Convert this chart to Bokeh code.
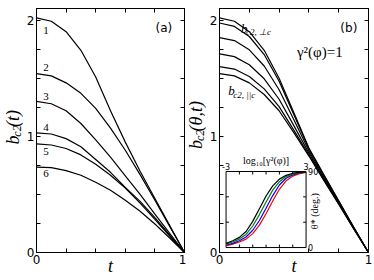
from math import pi
from bokeh.plotting import figure
from bokeh.models import Range1d, LinearAxis, FixedTicker, Label
from bokeh.layouts import row
from bokeh.embed import file_html
from bokeh.resources import INLINE

# ---------------- data ----------------
t = [0.0, 0.1, 0.2, 0.3, 0.4, 0.5, 0.6, 0.7, 0.8, 0.9, 1.0]

# panel (a): curves 1..6
a1 = [2.02, 1.99, 1.90, 1.74, 1.51, 1.22, 0.95, 0.70, 0.465, 0.232, 0.0]
a2 = [1.54, 1.52, 1.46, 1.37, 1.24, 1.07, 0.88, 0.67, 0.45, 0.225, 0.0]
a3 = [1.30, 1.28, 1.22, 1.11, 0.97, 0.82, 0.66, 0.50, 0.33, 0.165, 0.0]
a4 = [1.03, 1.02, 0.98, 0.91, 0.80, 0.69, 0.56, 0.44, 0.30, 0.15, 0.0]
a5 = [0.935, 0.925, 0.895, 0.84, 0.76, 0.665, 0.555, 0.425, 0.285, 0.142, 0.0]
a6 = [0.735, 0.73, 0.705, 0.665, 0.605, 0.535, 0.45, 0.355, 0.245, 0.125, 0.0]
a_names = ["1", "2", "3", "4", "5", "6"]

# panel (b): from perpendicular (top) to parallel (bottom)
b1 = [2.02, 1.99, 1.90, 1.74, 1.50, 1.20, 0.90, 0.67, 0.445, 0.22, 0.0]
b2 = [1.975, 1.946, 1.859, 1.704, 1.474, 1.184, 0.893, 0.665, 0.442, 0.219, 0.0]
b3 = [1.85, 1.824, 1.744, 1.605, 1.401, 1.14, 0.875, 0.652, 0.434, 0.215, 0.0]
b4 = [1.71, 1.686, 1.616, 1.495, 1.319, 1.09, 0.855, 0.638, 0.426, 0.21, 0.0]
b5 = [1.60, 1.579, 1.515, 1.408, 1.255, 1.051, 0.839, 0.626, 0.419, 0.207, 0.0]
b6 = [1.54, 1.52, 1.46, 1.36, 1.22, 1.03, 0.83, 0.62, 0.415, 0.205, 0.0]

x_lim = [0.0, 1.0]
y_lim = [0.0, 2.1]
x_major = [0, 1]
x_minor = [0.2, 0.4, 0.6, 0.8]
y_major = [0, 1, 2]
y_minor = [0.25, 0.5, 0.75, 1.25, 1.5, 1.75]

# inset: theta* (deg.) vs log10[gamma^2(phi)]
ins_x = [-3.0, -2.5, -2.0, -1.5, -1.0, -0.5, 0.0, 0.5, 1.0, 1.5, 2.0, 2.5, 3.0]
ins_black = [5, 8, 12, 19, 31, 46, 61, 73, 81, 85.5, 88, 89, 89.5]
ins_green = [4, 6.5, 10, 15.5, 25.5, 39, 54, 68, 78, 84, 87, 88.7, 89.3]
ins_blue = [3, 5, 8, 12.5, 20.5, 32, 46.5, 61.5, 74, 82, 86, 88.3, 89.2]
ins_red = [2, 4, 6.5, 10, 16.5, 26.5, 40, 55, 69, 79, 84.5, 87.5, 89]
ins_xlim = [-3, 3]
ins_ylim = [0, 90]
ins_xticks = [-2, -1, 0, 1, 2]
ins_yticks = [30, 60]
ins_xlabels = ["-3", "3"]
ins_ylabels = ["0", "90"]

H = 278
SERIF = "Liberation Serif"
SANS = "DejaVu Sans"


def make_panel(width, bl, br):
    p = figure(width=width, height=H, x_range=Range1d(*x_lim), y_range=Range1d(*y_lim),
               output_backend="svg", toolbar_location=None,
               min_border_left=bl, min_border_right=br, min_border_top=8, min_border_bottom=24)
    p.xgrid.visible = False
    p.ygrid.visible = False
    p.outline_line_color = "black"
    p.outline_line_alpha = 1.0
    p.background_fill_color = "white"
    p.border_fill_color = "white"
    xa, ya = p.xaxis[0], p.yaxis[0]
    xa.ticker = FixedTicker(ticks=x_major, minor_ticks=x_minor)
    ya.ticker = FixedTicker(ticks=y_major, minor_ticks=y_minor)
    for ax in (xa, ya):
        ax.major_tick_in = 4
        ax.major_tick_out = 0
        ax.minor_tick_in = 4
        ax.minor_tick_out = 0
        ax.axis_line_color = "black"
        ax.major_tick_line_color = "black"
        ax.minor_tick_line_color = "black"
        ax.major_label_text_font = SANS
        ax.major_label_text_font_size = "12px"
        ax.major_label_text_color = "black"
        ax.major_label_standoff = 2
    xa.axis_label = "t"
    xa.axis_label_text_font = SERIF
    xa.axis_label_text_font_style = "italic"
    xa.axis_label_text_font_size = "18px"
    xa.axis_label_text_color = "black"
    xa.axis_label_standoff = -11
    # mirrored ticks on right and top
    ra = LinearAxis(ticker=FixedTicker(ticks=[], minor_ticks=y_major + y_minor))
    ta = LinearAxis(ticker=FixedTicker(ticks=[], minor_ticks=x_major + x_minor))
    for ax in (ra, ta):
        ax.major_tick_in = 0
        ax.major_tick_out = 0
        ax.minor_tick_in = 4
        ax.minor_tick_out = 0
        ax.major_label_standoff = 0
        ax.axis_label_standoff = 0
        ax.axis_line_color = "black"
        ax.minor_tick_line_color = "black"
        ax.major_label_text_font_size = "0px"
    p.add_layout(ra, "right")
    p.add_layout(ta, "above")
    return p


def lab(p, x, y, text, size, font=SERIF, style="normal", align="center",
        baseline="middle", angle=0.0, xr="default", yr="default", color="black"):
    p.add_layout(Label(x=x, y=y, text=text, text_font=font, text_font_size=f"{size}px",
                       text_font_style=style, text_align=align, text_baseline=baseline,
                       angle=angle, x_range_name=xr, y_range_name=yr, text_color=color))


def label_strip(width):
    # narrow blank figure whose frame is the whole canvas, used for the y-axis titles
    s = figure(width=width, height=H, x_range=Range1d(0, width), y_range=Range1d(0, H),
               output_backend="svg", toolbar_location=None, min_border=0,
               x_axis_location=None, y_axis_location=None)
    s.grid.visible = False
    s.outline_line_color = None
    s.background_fill_color = "white"
    s.border_fill_color = "white"
    return s


# ---------------- y-axis titles ----------------
sa = label_strip(23)
lab(sa, 12.5, H - 155, "b", 18, style="italic", align="left", angle=pi / 2)
lab(sa, 16, H - 146, "c2", 12, style="italic", align="left", angle=pi / 2)
lab(sa, 12.5, H - 135, "(t)", 18, style="italic", align="left", angle=pi / 2)

sb = label_strip(20)
lab(sb, 9.5, H - 160, "b", 18, style="italic", align="left", angle=pi / 2)
lab(sb, 13, H - 151, "c2", 12, style="italic", align="left", angle=pi / 2)
lab(sb, 9.5, H - 140, "(θ,t)", 18, style="italic", align="left", angle=pi / 2)

# ---------------- panel (a) ----------------
pa = make_panel(163, 10, 2)
for ys in (a1, a2, a3, a4, a5, a6):
    pa.line(t, ys, line_color="black", line_width=1.2)
a_lab_pos = [1.91, 1.59, 1.343, 1.076, 0.873, 0.683]
for name, yy in zip(a_names, a_lab_pos):
    lab(pa, 0.064, yy, name, 11)
lab(pa, 0.861, 1.93, "(a)", 12, font=SANS)

# ---------------- panel (b) ----------------
pb = make_panel(166, 10, 4)
for ys in (b1, b2, b3, b4, b5, b6):
    pb.line(t, ys, line_color="black", line_width=1.2)
lab(pb, 0.868, 1.93, "(b)", 12, font=SANS)
lab(pb, 0.52, 1.724, "γ²(φ)=1", 15, align="left")
lab(pb, 0.145, 1.93, "b", 13, style="italic", align="left", baseline="alphabetic")
lab(pb, 0.178, 1.895, "c2, ⊥c", 9, style="italic", align="left", baseline="alphabetic")
lab(pb, 0.059, 1.392, "b", 13, style="italic", align="left", baseline="alphabetic")
lab(pb, 0.092, 1.357, "c2, ||c", 9, style="italic", align="left", baseline="alphabetic")

# ---------------- inset (inside panel b, own ranges) ----------------
box_l, box_r, box_b, box_t = 0.044, 0.581, 0.0427, 0.697   # placement in panel-b units
kx = (ins_xlim[1] - ins_xlim[0]) / (box_r - box_l)
ky = (ins_ylim[1] - ins_ylim[0]) / (box_t - box_b)
ix0 = ins_xlim[0] - (box_l - x_lim[0]) * kx
iy0 = ins_ylim[0] - (box_b - y_lim[0]) * ky
pb.extra_x_ranges = {"ix": Range1d(ix0, ix0 + (x_lim[1] - x_lim[0]) * kx)}
pb.extra_y_ranges = {"iy": Range1d(iy0, iy0 + (y_lim[1] - y_lim[0]) * ky)}
R = dict(x_range_name="ix", y_range_name="iy")

pb.quad(left=[ins_xlim[0]], right=[ins_xlim[1]], bottom=[ins_ylim[0]], top=[ins_ylim[1]],
        fill_color="white", line_color="black", line_width=1, **R)
tlx = 0.22   # ~3 px tick length in inset x units
tly = 3.5    # ~3 px tick length in inset y units
nx, ny = len(ins_xticks), len(ins_yticks)
pb.segment(x0=ins_xticks, y0=[ins_ylim[0]] * nx, x1=ins_xticks, y1=[ins_ylim[0] + tly] * nx,
           line_color="black", **R)
pb.segment(x0=ins_xticks, y0=[ins_ylim[1]] * nx, x1=ins_xticks, y1=[ins_ylim[1] - tly] * nx,
           line_color="black", **R)
pb.segment(x0=[ins_xlim[0]] * ny, y0=ins_yticks, x1=[ins_xlim[0] + tlx] * ny, y1=ins_yticks,
           line_color="black", **R)
pb.segment(x0=[ins_xlim[1]] * ny, y0=ins_yticks, x1=[ins_xlim[1] - tlx] * ny, y1=ins_yticks,
           line_color="black", **R)
for ys, c in ((ins_red, "#ff0000"), (ins_blue, "#0000ff"), (ins_green, "#008000"), (ins_black, "#000000")):
    pb.line(ins_x, ys, line_color=c, line_width=1.2, **R)

lab(pb, ins_xlim[0], ins_ylim[1] + 1.5, ins_xlabels[0], 8, font=SANS, baseline="bottom", xr="ix", yr="iy")
lab(pb, ins_xlim[1], ins_ylim[1] + 1.5, ins_xlabels[1], 8, font=SANS, baseline="bottom", xr="ix", yr="iy")
lab(pb, ins_xlim[1] + 0.15, ins_ylim[1], ins_ylabels[1], 8, font=SANS, align="left", xr="ix", yr="iy")
lab(pb, ins_xlim[1] + 0.15, ins_ylim[0], ins_ylabels[0], 8, font=SANS, align="left", xr="ix", yr="iy")
lab(pb, 0.0, 103, "log₁₀[γ²(φ)]", 10, xr="ix", yr="iy")
lab(pb, 3.6, 43, "θ* (deg.)", 10, angle=pi / 2, xr="ix", yr="iy")

layout = row(sa, pa, sb, pb)
open("out.html", "w").write(file_html(layout, INLINE))
